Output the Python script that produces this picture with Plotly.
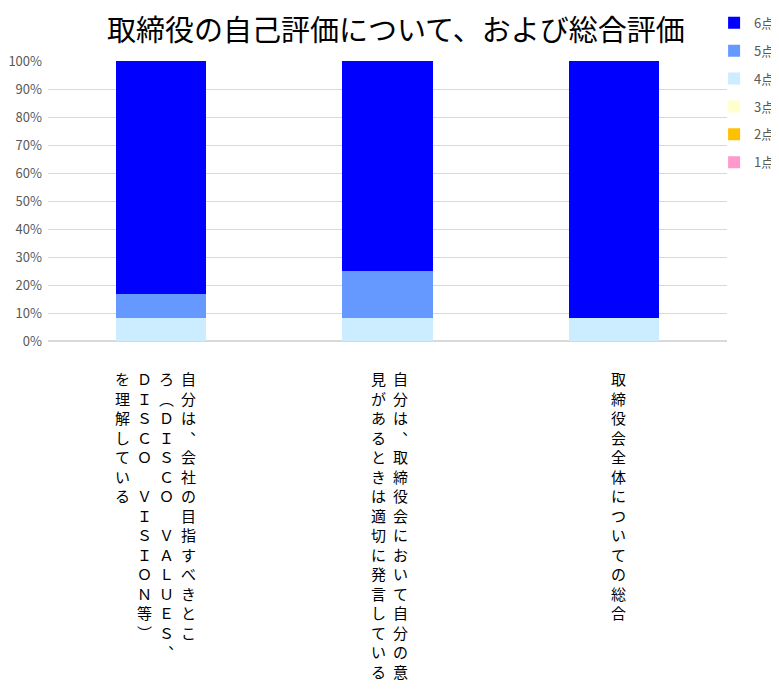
import plotly.graph_objects as go

# 縦書きラベル（列ごと、右から左へ）
label_columns = [
    ["自分は︑会社の目指すべきとこ", "ろ︵ＤＩＳＣＯ　ＶＡＬＵＥＳ︑", "ＤＩＳＣＯ　ＶＩＳＩＯＮ等︶", "を理解している"],
    ["自分は︑取締役会において自分の意", "見があるときは適切に発言している"],
    ["取締役会全体についての総合"],
]
categories = ["".join(cols) for cols in label_columns]

score_labels = ["1点", "2点", "3点", "4点", "5点", "6点"]
count_1 = [0, 0, 0]
count_2 = [0, 0, 0]
count_3 = [0, 0, 0]
count_4 = [1, 1, 1]
count_5 = [1, 2, 0]
count_6 = [10, 9, 11]
counts = [count_1, count_2, count_3, count_4, count_5, count_6]

COLORS = ["#FF99CC", "#FFC000", "#FFFFCC", "#CCECFF", "#6699FF", "#0000FF"]
FONT = "Noto Sans CJK JP"
GRIS = "#595959"

fig = go.Figure()
for i, (lab, vals) in enumerate(zip(score_labels, counts)):
    fig.add_trace(go.Bar(
        x=categories, y=vals, name=lab, legendgroup=lab,
        legendrank=len(score_labels) - i,   # 6点 を上に
        marker=dict(color=COLORS[i], line=dict(width=0)),
    ))

# ラベル列の位置（px、カテゴリ中心からの最初の列のずれ）
first_shift = [27, 12.5, 5]
col_gap = 22
for c, cols in enumerate(label_columns):
    for k, col in enumerate(cols):
        fig.add_annotation(
            x=categories[c], xref="x", y=-0.09, yref="paper",
            yanchor="top", xanchor="center",
            xshift=first_shift[c] - k * col_gap,
            text="<br>".join(col), showarrow=False,
            font=dict(family=FONT, size=15, color="#000000"),
        )

# ページの余白 8px を差し引いたサイズ
fig.update_layout(
    width=771, height=681,
    barmode="stack", barnorm="percent", bargap=0.6,
    paper_bgcolor="white", plot_bgcolor="white",
    margin=dict(l=40, r=52, t=53, b=348, autoexpand=False),
    title=dict(text="取締役の自己評価について、および総合評価",
               x=0.503, xref="container", xanchor="center",
               y=0.967, yref="container", yanchor="middle",
               font=dict(family=FONT, size=29, color="#000000")),
    legend=dict(x=0.981, xanchor="left", y=1.19, yanchor="top",
                traceorder="grouped", tracegroupgap=8,
                itemwidth=30,
                font=dict(family=FONT, size=13, color=GRIS),
                bgcolor="rgba(0,0,0,0)"),
    showlegend=True,
)
fig.update_xaxes(showticklabels=False, showgrid=False, zeroline=False,
                 showline=False, ticks="", automargin=False)
fig.update_yaxes(range=[0, 100], dtick=10, ticksuffix="%",
                 showgrid=True, gridcolor="#D9D9D9", gridwidth=1,
                 zeroline=True, zerolinecolor="#D9D9D9", showline=False,
                 ticklabelstandoff=5, automargin=False,
                 tickfont=dict(family=FONT, size=13, color=GRIS))

fig.write_html("out.html")
